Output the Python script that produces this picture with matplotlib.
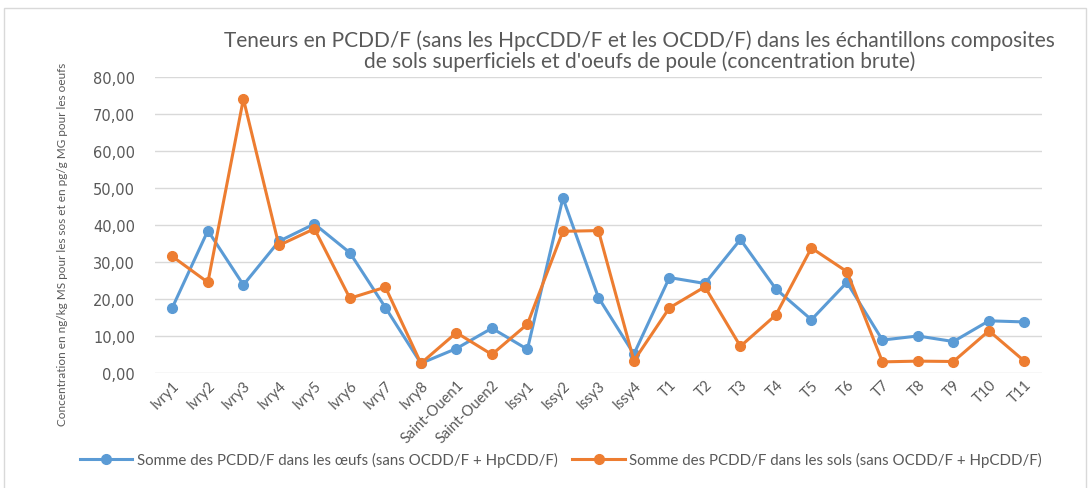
import numpy as np
import matplotlib.pyplot as plt
import matplotlib.patches as patches
from matplotlib.ticker import FuncFormatter

plt.rcParams['font.family'] = ['Lato', 'DejaVu Sans']

sites = ['Ivry1', 'Ivry2', 'Ivry3', 'Ivry4', 'Ivry5', 'Ivry6', 'Ivry7', 'Ivry8',
         'Saint-Ouen1', 'Saint-Ouen2', 'Issy1', 'Issy2', 'Issy3', 'Issy4',
         'T1', 'T2', 'T3', 'T4', 'T5', 'T6', 'T7', 'T8', 'T9', 'T10', 'T11']
oeufs = [17.6, 38.4, 23.7, 35.5, 40.2, 32.4, 17.6, 2.5, 6.5, 12.0, 6.3,
         47.2, 20.3, 5.0, 25.7, 24.1, 36.0, 22.6, 14.3, 24.4, 8.8, 9.9, 8.4, 14.0, 13.7]
sols = [31.4, 24.4, 74.0, 34.4, 38.9, 20.1, 23.1, 2.5, 10.8, 4.9, 13.1,
        38.2, 38.4, 3.2, 17.5, 23.2, 7.1, 15.6, 33.7, 27.3, 2.9, 3.1, 3.0, 11.3, 3.1]

blue = '#5B9BD5'
orange = '#ED7D31'
txt = '#595959'

fig = plt.figure(figsize=(10.89, 4.89), dpi=100)
fig.patches.append(patches.Rectangle((0.004, -0.01), 0.993, 0.992, transform=fig.transFigure,
                                     fill=False, edgecolor='#D9D9D9', lw=1))
ax = fig.add_axes([0.142, 0.236, 0.815, 0.605])

x = np.arange(len(sites))
ax.plot(x, oeufs, color=blue, lw=2.2, marker='o', ms=7,
        label='Somme des PCDD/F dans les œufs (sans OCDD/F + HpCDD/F)')
ax.plot(x, sols, color=orange, lw=2.2, marker='o', ms=7,
        label='Somme des PCDD/F dans les sols (sans OCDD/F + HpCDD/F)')

ax.set_ylim(0, 80)
ax.set_xlim(-0.5, len(sites) - 0.5)
ax.set_yticks(np.arange(0, 81, 10))
ax.yaxis.set_major_formatter(FuncFormatter(lambda v, p: f'{v:.2f}'.replace('.', ',')))
ax.grid(axis='y', color='#D9D9D9', lw=1)
ax.set_axisbelow(True)
for s in ax.spines.values():
    s.set_visible(False)
ax.tick_params(length=0, colors=txt, labelsize=10.5)
ax.tick_params(axis='y', pad=14)
for lab in ax.get_yticklabels():
    lab.set_family('DejaVu Sans')
    lab.set_fontsize(10.5)
ax.set_xticks(x)
ax.set_xticklabels(sites, rotation=45, ha='right', rotation_mode='anchor')

fig.text(0.587, 0.895, "Teneurs en PCDD/F (sans les HpcCDD/F et les OCDD/F) dans les échantillons composites\n"
         "de sols superficiels et d'oeufs de poule (concentration brute)",
         ha='center', va='center', fontsize=15, color=txt, linespacing=1.05)
fig.text(0.057, 0.5, 'Concentration en ng/kg MS pour les sos et en pg/g MG pour les oeufs',
         rotation=90, ha='center', va='center', fontsize=8.5, color=txt)

fig.legend(loc='center', bbox_to_anchor=(0.515, 0.058), ncol=2, frameon=False,
           fontsize=10.8, labelcolor=txt, handlelength=3.5, columnspacing=1.0, handletextpad=0.3)

plt.savefig('out.png', dpi=100)
